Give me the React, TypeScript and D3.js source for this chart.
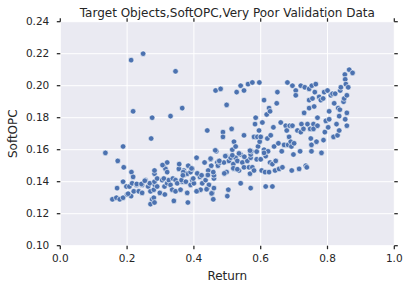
import React from "react";
import * as d3 from "d3";

const returnVals: number[] = [
  0.135,0.172,0.188,0.19,0.188,0.212,0.248,0.218,0.275,0.272,0.345,0.33,0.365,0.213,0.218,0.17,
  0.156,0.168,0.178,0.188,0.2,0.212,0.198,0.207,0.215,0.22,0.228,0.235,0.245,0.245,0.255,0.263,0.268,0.27,0.27,0.275,0.28,0.282,0.28,0.283,0.282,0.282,0.282,0.29,0.29,0.298,
  0.305,0.31,0.315,0.32,0.32,0.31,0.312,0.313,0.32,0.325,0.33,0.335,0.337,0.34,0.345,0.345,0.35,0.355,0.356,0.36,0.365,0.37,0.37,0.38,0.38,0.382,0.383,0.39,0.39,0.395,0.395,0.40,
  0.408,0.41,0.418,0.42,0.425,0.432,0.435,0.44,0.44,0.44,0.443,0.445,0.45,0.452,0.455,0.458,0.46,0.46,0.46,0.467,0.47,0.472,0.478,0.465,0.48,0.487,0.487,0.49,0.497,0.498,0.498,
  0.5,0.503,0.505,0.51,0.513,0.515,0.518,0.52,0.52,0.525,0.525,0.528,0.53,0.535,0.54,0.54,0.54,0.545,0.55,0.55,0.55,0.56,0.562,0.565,0.568,0.57,0.57,0.57,0.572,0.575,0.575,
  0.58,0.58,0.583,0.585,0.588,0.59,0.592,0.595,0.596,0.597,0.6,0.6,0.603,0.605,0.61,0.61,0.613,0.615,0.615,0.618,0.62,0.622,0.625,0.625,0.628,0.628,0.63,0.635,0.635,0.638,0.64,
  0.643,0.645,0.648,0.65,0.653,0.655,0.66,0.663,0.665,0.67,0.675,0.678,0.68,0.682,0.685,0.687,0.69,0.692,0.693,0.695,0.695,0.698,0.7,0.705,0.705,0.71,0.715,0.718,0.72,0.72,
  0.722,0.728,0.73,0.732,0.735,0.738,0.74,0.745,0.745,0.745,0.748,0.75,0.752,0.752,0.753,0.755,0.758,0.758,0.76,0.762,0.765,0.767,0.77,0.77,0.775,0.78,0.782,0.787,0.788,0.79,
  0.792,0.795,0.8,0.802,0.805,0.805,0.81,0.815,0.818,0.82,0.823,0.827,0.83,0.832,0.835,0.835,0.837,0.838,0.84,0.848,0.85,0.852,0.853,0.853,0.855,0.858,0.858,0.858,0.862,0.865,0.875,
  0.464,0.45,0.476,0.494,0.515,0.535,0.551,0.568,0.588,0.61,0.393,0.368,0.41,0.423,0.442,0.458,0.398,0.363,0.376,0.408,0.438,0.453,0.518,0.53,0.491,0.229,0.243,0.253,0.306,0.367,0.203
];

const softOpcVals: number[] = [
  0.158,0.153,0.162,0.149,0.140,0.216,0.220,0.184,0.180,0.167,0.209,0.181,0.186,0.146,0.143,0.136,
  0.129,0.130,0.129,0.130,0.132,0.131,0.137,0.137,0.139,0.134,0.138,0.134,0.133,0.138,0.141,0.137,0.139,0.134,0.126,0.129,0.130,0.127,0.135,0.138,0.140,0.145,0.147,0.142,0.137,0.133,
  0.141,0.150,0.148,0.152,0.146,0.142,0.137,0.132,0.139,0.141,0.138,0.135,0.142,0.128,0.141,0.134,0.139,0.148,0.151,0.135,0.140,0.147,0.144,0.145,0.133,0.127,0.150,0.138,0.146,0.148,0.141,0.139,
  0.155,0.134,0.143,0.135,0.139,0.152,0.141,0.136,0.144,0.172,0.147,0.138,0.154,0.150,0.133,0.129,0.136,0.142,0.144,0.159,0.152,0.150,0.152,0.197,0.198,0.171,0.168,0.152,0.156,0.146,0.188,
  0.131,0.135,0.153,0.155,0.173,0.160,0.151,0.148,0.165,0.162,0.155,0.196,0.153,0.147,0.139,0.157,0.200,0.152,0.149,0.197,0.169,0.153,0.201,0.149,0.145,0.136,0.155,0.157,0.159,0.202,0.149,
  0.147,0.168,0.176,0.180,0.154,0.168,0.162,0.172,0.202,0.165,0.168,0.154,0.147,0.177,0.191,0.160,0.146,0.137,0.156,0.182,0.167,0.159,0.146,0.186,0.184,0.152,0.169,0.151,0.137,0.174,0.162,
  0.147,0.153,0.189,0.196,0.164,0.148,0.177,0.159,0.149,0.163,0.175,0.172,0.202,0.163,0.168,0.175,0.165,0.162,0.147,0.175,0.200,0.157,0.164,0.197,0.194,0.172,0.148,0.159,0.200,0.171,
  0.176,0.173,0.183,0.199,0.150,0.149,0.176,0.186,0.191,0.198,0.173,0.167,0.163,0.159,0.200,0.192,0.176,0.173,0.187,0.196,0.201,0.165,0.175,0.180,0.193,0.191,0.158,0.192,0.166,0.196,
  0.171,0.178,0.197,0.174,0.184,0.179,0.194,0.195,0.168,0.189,0.195,0.176,0.169,0.186,0.172,0.181,0.185,0.197,0.199,0.190,0.192,0.207,0.204,0.179,0.201,0.194,0.183,0.175,0.199,0.210,0.208,
  0.1596,0.1544,0.153,0.156,0.1565,0.1577,0.1556,0.1594,0.1588,0.158,0.1483,0.146,0.1452,0.144,0.1442,0.146,0.142,0.141,0.140,0.134,0.1353,0.1327,0.1484,0.1478,0.1452,0.1386,0.1386,0.1406,0.1504,0.144,0.1325
];

const xTicks: number[] = [0.0, 0.2, 0.4, 0.6, 0.8, 1.0];
const yTicks: number[] = [0.10, 0.12, 0.14, 0.16, 0.18, 0.20, 0.22, 0.24];

const titleText = "Target Objects,SoftOPC,Very Poor Validation Data";
const xLabel = "Return";
const yLabel = "SoftOPC";

export default function App() {
  const W = 410, H = 290;
  const left = 60.3, right = 394.3, top = 21.7, bottom = 245.7;
  const x = d3.scaleLinear().domain([0, 1]).range([left, right]);
  const y = d3.scaleLinear().domain([0.10, 0.24]).range([bottom, top]);
  const font = "'DejaVu Sans', sans-serif";
  const tickColor = "#262626";
  const tl = 3.5;
  const pts = returnVals.map((r, i) => [r, softOpcVals[i]] as [number, number]);
  return (
    <svg width={W} height={H} style={{ position: "absolute", left: 0, top: 0 }} fontFamily={font}>
      <rect x={left} y={top} width={right - left} height={bottom - top} fill="#eaeaf2" />
      {xTicks.map((t) => (
        <line key={"gx" + t} x1={x(t)} x2={x(t)} y1={top} y2={bottom} stroke="#fff" strokeWidth={1} />
      ))}
      {yTicks.map((t) => (
        <line key={"gy" + t} x1={left} x2={right} y1={y(t)} y2={y(t)} stroke="#fff" strokeWidth={1} />
      ))}
      {pts.map(([a, b], i) => (
        <circle key={i} cx={x(a)} cy={y(b)} r={2.8} fill="#4c72b0" stroke="#fff" strokeWidth={0.6} />
      ))}
      {xTicks.map((t) => (
        <g key={"tx" + t}>
          <line x1={x(t)} x2={x(t)} y1={bottom} y2={bottom + tl} stroke={tickColor} strokeWidth={1.25} />
          <line x1={x(t)} x2={x(t)} y1={top} y2={top - tl} stroke={tickColor} strokeWidth={1.25} />
          <text x={x(t)} y={bottom + 16} textAnchor="middle" fontSize={10.5} fill={tickColor}>
            {d3.format(".1f")(t)}
          </text>
        </g>
      ))}
      {yTicks.map((t) => (
        <g key={"ty" + t}>
          <line x1={left} x2={left - tl} y1={y(t)} y2={y(t)} stroke={tickColor} strokeWidth={1.25} />
          <line x1={right} x2={right + tl} y1={y(t)} y2={y(t)} stroke={tickColor} strokeWidth={1.25} />
          <text x={left - 11} y={y(t)} dy="0.35em" textAnchor="end" fontSize={10.5} fill={tickColor}>
            {d3.format(".2f")(t)}
          </text>
        </g>
      ))}
      <text x={(left + right) / 2} y={17} textAnchor="middle" fontSize={12} fill={tickColor}>
        {titleText}
      </text>
      <text x={(left + right) / 2} y={280} textAnchor="middle" fontSize={12} fill={tickColor}>
        {xLabel}
      </text>
      <text transform={`translate(17,${(top + bottom) / 2}) rotate(-90)`} textAnchor="middle" fontSize={12} fill={tickColor}>
        {yLabel}
      </text>
    </svg>
  );
}
